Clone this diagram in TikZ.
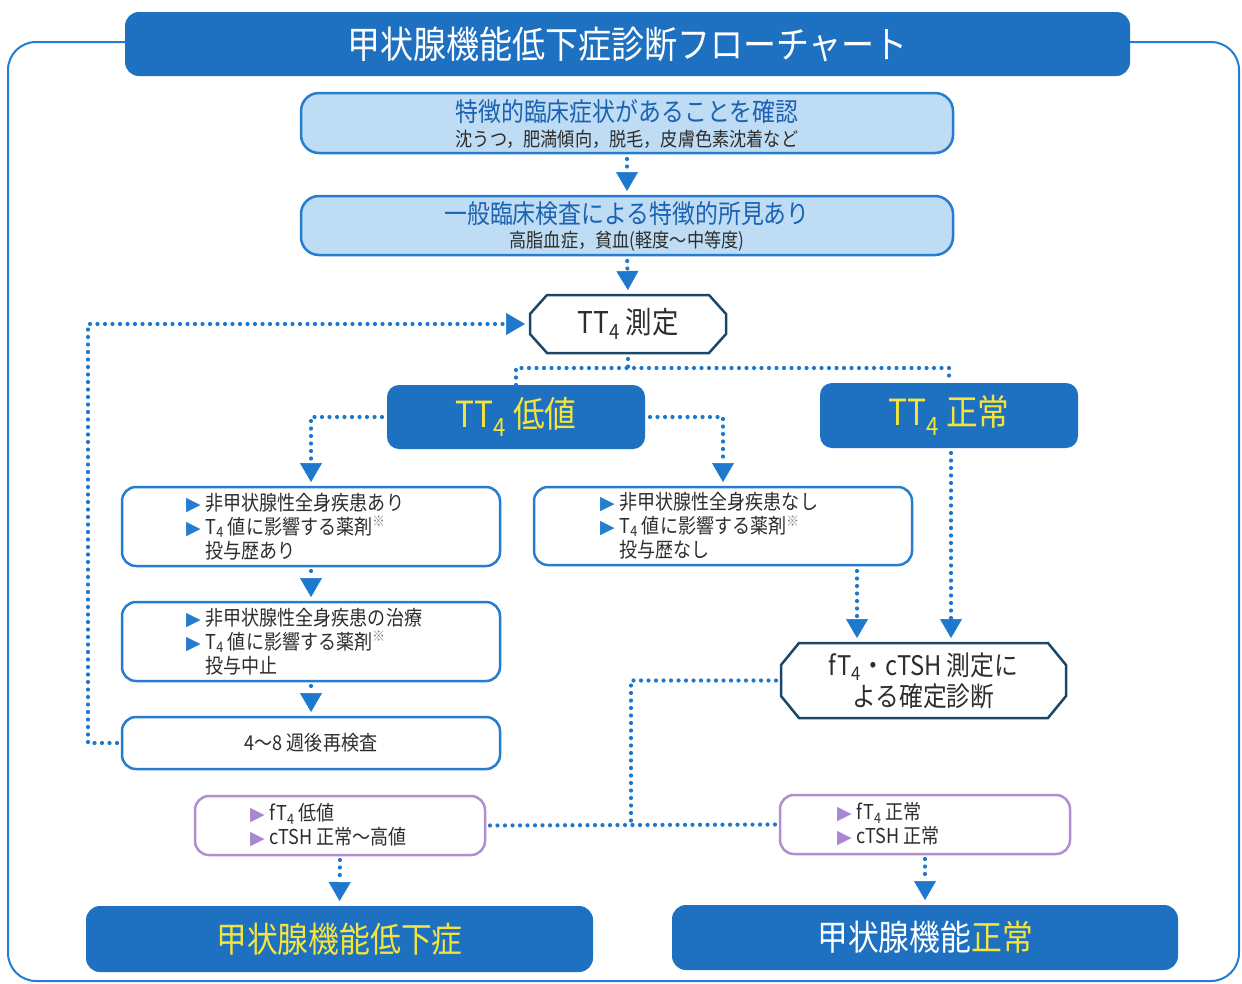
\documentclass[tikz,border=0pt]{standalone}
\usepackage{fontspec}
\setmainfont{Noto Sans CJK JP}[FakeStretch=0.88]
\newfontfamily\dvs{DejaVu Sans}
\usetikzlibrary{arrows.meta}
\definecolor{mainblue}{RGB}{30,112,192}
\definecolor{linblue}{RGB}{38,124,206}
\definecolor{lightfill}{RGB}{190,220,243}
\definecolor{headblue}{RGB}{28,98,178}
\definecolor{navy}{RGB}{27,72,105}
\definecolor{ylw}{RGB}{245,228,60}
\definecolor{purp}{RGB}{176,142,208}
\definecolor{purpb}{RGB}{168,136,210}
\definecolor{txt}{RGB}{45,45,45}
\definecolor{dotc}{RGB}{30,120,205}
\newcommand\fs[2]{\fontsize{#1}{#2}\selectfont}
\newcommand\bbul{{\dvs\fontsize{19}{19}\selectfont\color{linblue}▶}\hspace{5pt}}
\newcommand\pbul{{\dvs\fontsize{19}{19}\selectfont\color{purpb}▶}\hspace{5pt}}
\newcommand\kome{\textsuperscript{\color{gray}※}}
\newcommand\chamf[3]{%
 \draw[hexline] ([xshift=#2]#1.north west) -- ([xshift=-#2]#1.north east) -- ([yshift=-#3]#1.north east) -- ([yshift=#3]#1.south east) -- ([xshift=-#2]#1.south east) -- ([xshift=#2]#1.south west) -- ([yshift=#3]#1.south west) -- ([yshift=-#3]#1.north west) -- cycle;}
\tikzset{
 every node/.style={inner sep=0pt, outer sep=0pt},
 bar/.style={fill=mainblue, draw=none, rounded corners=14pt},
 lbox/.style={fill=lightfill, draw=linblue, line width=2.5pt, rounded corners=18pt, align=center},
 wbox/.style={fill=white, draw=linblue, line width=2.5pt, rounded corners=14pt},
 pbox/.style={fill=white, draw=purp, line width=2.5pt, rounded corners=14pt},
 hexline/.style={draw=navy, line width=2.5pt, line join=miter},
 btxt/.style={anchor=west, align=left, text=txt, font=\fs{20.5}{24}},
 dotline/.style={draw=dotc, line width=4.2pt, line cap=round, dash pattern=on 0pt off 7.5pt},
 dotarrow/.style={dotline, -{Triangle[width=22pt,length=19pt,line width=0.5pt]}, shorten >=5pt},
}
\begin{document}
\begin{tikzpicture}[x=1pt,y=-1pt]
\useasboundingbox (0,0) rectangle (1242,983);
% outer frame
\draw[linblue, line width=2pt, rounded corners=28pt] (8,981) rectangle (1239,42);
% title
\node[bar, minimum width=1005pt, minimum height=64pt, text=white, font=\fs{37.5}{40}] (title) at (627.5,44) {甲状腺機能低下症診断フローチャート};
% top boxes
\node[lbox, minimum width=652pt, minimum height=60pt] (b1) at (627,123) {};
\node[align=center, font=\fs{26}{28}, text=headblue] (b1a) at (627,112) {特徴的臨床症状があることを確認};
\node[align=center, font=\fs{19.5}{22}, text=txt] (b1b) at (627,139) {沈うつ，肥満傾向，脱毛，皮膚色素沈着など};
\node[lbox, minimum width=652pt, minimum height=59pt] (b2) at (627,225.5) {};
\node[align=center, font=\fs{26}{28}, text=headblue] (b2a) at (627,214) {一般臨床検査による特徴的所見あり};
\node[align=center, font=\fs{19.5}{22}, text=txt] (b2b) at (627,241) {高脂血症，貧血(軽度～中等度)};
% TT4 measurement
\node[minimum width=196pt, minimum height=58pt, font=\fs{30}{32}, text=txt] (t4m) at (628,324) {TT\textsubscript{4} 測定};
\chamf{t4m}{17pt}{19pt}
% TT4 low / normal
\node[bar, rounded corners=12pt, minimum width=258pt, minimum height=64pt, text=ylw, font=\fs{36}{38}] (low) at (516,417) {TT\textsubscript{4} 低値};
\node[bar, rounded corners=12pt, minimum width=258pt, minimum height=65pt, text=ylw, font=\fs{36}{38}] (norm) at (949,415.5) {TT\textsubscript{4} 正常};
% left column
\node[wbox, minimum width=378pt, minimum height=79pt] (A) at (311,526.5) {};
\node[btxt] (At) at ([xshift=64pt]A.west) {\bbul 非甲状腺性全身疾患あり\\\bbul T\textsubscript{4} 値に影響する薬剤\kome\\\hphantom{\bbul}投与歴あり};
\node[wbox, minimum width=378pt, minimum height=78pt] (B) at (723,526) {};
\node[btxt] (Bt) at ([xshift=66pt]B.west) {\bbul 非甲状腺性全身疾患なし\\\bbul T\textsubscript{4} 値に影響する薬剤\kome\\\hphantom{\bbul}投与歴なし};
\node[wbox, minimum width=378pt, minimum height=79pt] (C) at (311,641.5) {};
\node[btxt] (Ct) at ([xshift=64pt]C.west) {\bbul 非甲状腺性全身疾患の治療\\\bbul T\textsubscript{4} 値に影響する薬剤\kome\\\hphantom{\bbul}投与中止};
\node[wbox, minimum width=378pt, minimum height=52pt, font=\fs{20.5}{24}, text=txt] (D) at (311,743) {4～8 週後再検査};
% fT4 hexagon
\node[minimum width=285pt, minimum height=75pt] (fh) at (923.5,680.5) {};
\node[align=center, font=\fs{27}{31}, text=txt] (fht) at (923.5,680.5) {fT\textsubscript{4}・cTSH 測定に\\よる確定診断};
\chamf{fh}{18pt}{22pt}
% result boxes
\node[pbox, minimum width=290pt, minimum height=59pt] (E) at (340,825.5) {};
\node[btxt] (Et) at ([xshift=55pt]E.west) {\pbul fT\textsubscript{4} 低値\\\pbul cTSH 正常～高値};
\node[pbox, minimum width=290pt, minimum height=59pt] (F) at (925,824.5) {};
\node[btxt] (Ft) at ([xshift=57pt]F.west) {\pbul fT\textsubscript{4} 正常\\\pbul cTSH 正常};
\node[bar, minimum width=507pt, minimum height=66pt, text=ylw, font=\fs{35}{38}] (G) at (339.5,939) {甲状腺機能低下症};
\node[bar, minimum width=506pt, minimum height=65pt, text=white, font=\fs{35}{38}] (H) at (925,937.5) {甲状腺機能{\color{ylw}正常}};
% coordinates
\coordinate (split) at (628,368);
\coordinate (loop) at (88,743);
\coordinate (Bo) at (857,566);
\coordinate (jn) at (631,825);
% connectors
\draw[dotarrow, shorten <=6pt] (b1.south) -- (b2.north);
\draw[dotarrow, shorten <=6pt] (b2.south) -- (t4m.north);
\draw[dotline, shorten <=6pt] (t4m.south) -- (split);
\draw[dotline] (low.north) |- (split) -| (norm.north);
\draw[dotarrow, shorten <=5pt] (low.west) -| (A.north);
\draw[dotarrow, shorten <=5pt] (low.east) -| (B.north);
\draw[dotarrow, shorten <=5pt] (A.south) -- (C.north);
\draw[dotarrow, shorten <=5pt] (C.south) -- (D.north);
\draw[dotarrow, shorten <=5pt] (D.west) -- (loop) |- (t4m.west);
\draw[dotarrow, shorten <=5pt] (Bo) -- (Bo |- fh.north);
\draw[dotarrow, shorten <=5pt] (norm.south -| 951,0) -- (fh.north -| 951,0);
\draw[dotline, shorten <=5pt] (fh.west) -| (jn);
\draw[dotline, shorten <=5pt, shorten >=5pt] (E.east) -- (F.west);
\draw[dotarrow, shorten <=5pt] (E.south) -- (G.north);
\draw[dotarrow, shorten <=5pt] (F.south) -- (H.north);
\end{tikzpicture}
\end{document}
